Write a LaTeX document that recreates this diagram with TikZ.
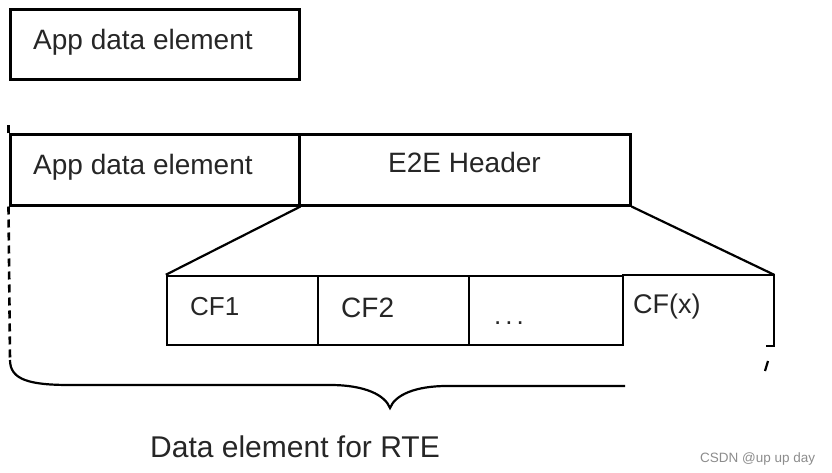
\documentclass[tikz,border=0pt]{standalone}
\usepackage{fontspec}
\setmainfont{Liberation Sans}
\usetikzlibrary{positioning}

\begin{document}
\begin{tikzpicture}[x=1pt, y=-1pt,
  field/.style={
    rectangle, draw, line width=3pt,
    inner sep=0pt, minimum height=70pt
  },
  cell/.style={
    rectangle, draw, line width=2.4pt,
    inner sep=0pt, minimum width=151pt, minimum height=69pt
  },
  lbl/.style={font=\fontsize{28}{30}\selectfont, inner sep=0pt,
    anchor=base west, text=black!85},
  cflbl/.style={font=\fontsize{26}{28}\selectfont, inner sep=0pt,
    anchor=base west, text=black!85},
  edge/.style={line width=2.2pt}
]
\useasboundingbox (0,0) rectangle (832,473);

% Plain data element
\node[field, minimum width=289pt] (app1) at (154.5,45) {};
\node[lbl] at (33,50) {App data element};

% Protected data element
\node[field, minimum width=289pt] (app2) at (154.5,170) {};
\node[field, minimum width=331pt] (e2e) at (464.5,170) {};
\node[lbl] at (33,175) {App data element};
\node[lbl, anchor=base] at (464.5,173) {E2E Header};
\draw[line width=3pt] (app2.north west) -- ++(0,-8);

% Control fields of the header
\node[cell] (cf1) at (242.5,310.5) {};
\node[cell] (cf2) at (393.5,310.5) {};
\node[cell, minimum width=154pt] (cf3) at (546,310.5) {};
\node[cell, draw=none, minimum width=150pt] (cfx) at (698,310.5) {};
\draw[line width=2.4pt] (cfx.north west) -- (cfx.north east) -- (cfx.south east) -- ++(-8,0);
\node[cflbl] at (190,315) {CF1};
\node[cflbl, font=\fontsize{28}{30}\selectfont] at (341,317) {CF2};
\node[cflbl] at (494,324) {.\kern4pt.\kern4pt.};
\node[cflbl, font=\fontsize{27}{29}\selectfont] at (633,313) {CF(x)};

% Expansion lines
\draw[edge] (app2.south east) -- (cf1.north west);
\draw[edge] (e2e.south east) -- (cfx.north east);

% Brace
\coordinate (bl) at (10,360);
\draw[line width=2.6pt, dash pattern=on 8pt off 5pt] (app2.south west) -- (bl);
\draw[edge] (bl) .. controls (10,380) and (30,385) .. (70,385) -- (330,385)
  .. controls (365,385) and (385,395) .. (390,408)
  .. controls (395,395) and (415,386) .. (447,386) -- (625,386);
\draw[edge] (768,361) -- (765,371);

\node[font=\fontsize{30}{32}\selectfont, inner sep=0pt, anchor=base,
  text=black!85] (rte) at (295,457) {Data element for RTE};
\node[font=\fontsize{13.5}{15}\selectfont, inner sep=0pt, anchor=base west,
  text=black!45] (mark) at (700,462) {CSDN @up up day};

\end{tikzpicture}
\end{document}
